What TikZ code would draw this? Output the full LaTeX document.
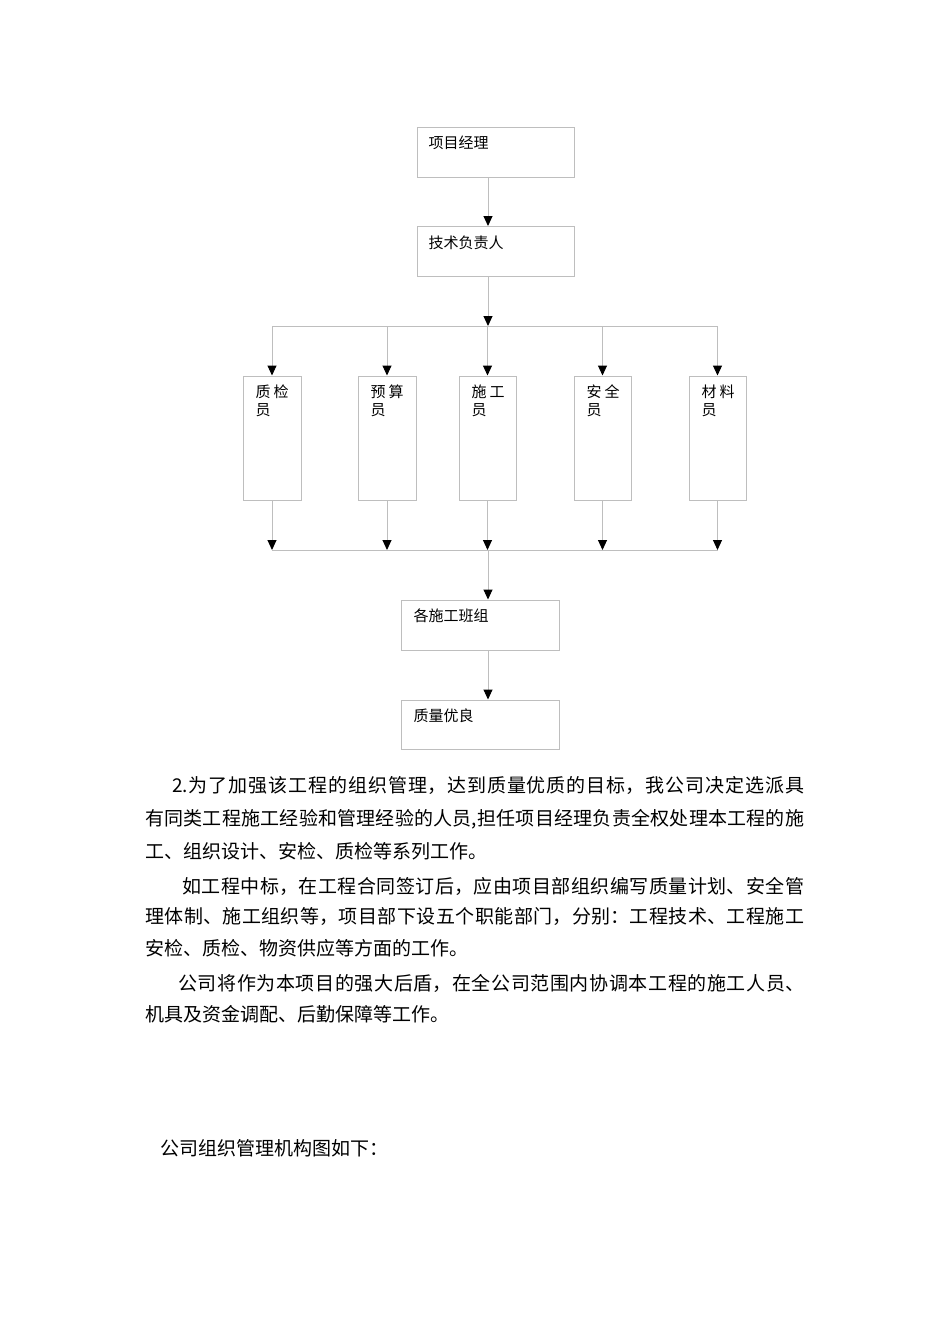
\documentclass[tikz,border=0pt]{standalone}
\usepackage{fontspec}
\setmainfont{Noto Sans CJK SC}
\usetikzlibrary{arrows.meta}
\XeTeXlinebreaklocale "zh"
\XeTeXlinebreakskip=0pt plus 2pt
\definecolor{linegray}{RGB}{190,190,190}
% one justified line of body text
\newcommand{\jline}[2]{\parbox[b]{#1pt}{\parfillskip=0pt #2}}

\begin{document}
\begin{tikzpicture}[x=1pt,y=-1pt,
		box/.style={draw=linegray,line width=1pt,inner sep=0pt},
		lbl/.style={inner sep=0pt,anchor=base west,align=left,font=\fontsize{15}{18}\selectfont},
		ln/.style={draw=linegray,line width=1pt},
		arr/.style={ln,-{Triangle[width=9pt,length=10pt,color=black]}},
		para/.style={inner sep=0pt,anchor=base west,font=\fontsize{19}{19}\selectfont}]
	\useasboundingbox (0,0) rectangle (950,1344);
	% chart
	\node [box,minimum width=157,minimum height=50] (pm) at (495.5,152) {};
	\node [lbl] (pmt) at ([shift={(12,22)}]pm.north west) {项目经理};
	\node [box,minimum width=157,minimum height=50] (tech) at (495.5,251.5) {};
	\node [lbl] (techt) at ([shift={(12,22)}]tech.north west) {技术负责人};
	\node [box,minimum width=58,minimum height=124] (zj) at (272,438) {};
	\node [lbl] (zjt) at ([shift={(13,40)}]zj.north west) {质\hspace{0.2em}检\\员};
	\node [box,minimum width=58,minimum height=124] (ys) at (387,438) {};
	\node [lbl] (yst) at ([shift={(13,40)}]ys.north west) {预\hspace{0.2em}算\\员};
	\node [box,minimum width=57,minimum height=124] (sg) at (487.5,438) {};
	\node [lbl] (sgt) at ([shift={(13,40)}]sg.north west) {施\hspace{0.2em}工\\员};
	\node [box,minimum width=57,minimum height=124] (aq) at (602.5,438) {};
	\node [lbl] (aqt) at ([shift={(13,40)}]aq.north west) {安\hspace{0.2em}全\\员};
	\node [box,minimum width=57,minimum height=124] (cl) at (717.5,438) {};
	\node [lbl] (clt) at ([shift={(13,40)}]cl.north west) {材\hspace{0.2em}料\\员};
	\node [box,minimum width=158,minimum height=50] (bz) at (480,625) {};
	\node [lbl] (bzt) at ([shift={(13,22)}]bz.north west) {各施工班组};
	\node [box,minimum width=158,minimum height=49] (zl) at (480,724.5) {};
	\node [lbl] (zlt) at ([shift={(13,22)}]zl.north west) {质量优良};
	\coordinate (top) at (488,326);
	\coordinate (bot) at (488,550);
	\draw [arr] (pm.south -| top) -- (tech.north -| top);
	\draw [arr] (tech.south -| top) -- (top);
	\draw [ln] (zj |- top) -- (cl |- top);
	\draw [arr] (zj |- top) -- (zj.north);
	\draw [arr] (ys |- top) -- (ys.north);
	\draw [arr] (sg |- top) -- (sg.north);
	\draw [arr] (aq |- top) -- (aq.north);
	\draw [arr] (cl |- top) -- (cl.north);
	\draw [arr] (zj.south) -- (zj |- bot);
	\draw [arr] (ys.south) -- (ys |- bot);
	\draw [arr] (sg.south) -- (sg |- bot);
	\draw [arr] (aq.south) -- (aq |- bot);
	\draw [arr] (cl.south) -- (cl |- bot);
	\draw [ln] (zj |- bot) -- (cl |- bot);
	\draw [arr] (bot) -- (bz.north -| bot);
	\draw [arr] (bz.south -| bot) -- (zl.north -| bot);
	% text
	\node [para] (p1) at (172,792) {\jline{632}{2.为了加强该工程的组织管理，达到质量优质的目标，我公司决定选派具}};
	\node [para] (p2) at (145,825) {\jline{659}{有同类工程施工经验和管理经验的人员,担任项目经理负责全权处理本工程的施}};
	\node [para] (p3) at (145,858) {工、组织设计、安检、质检等系列工作。};
	\node [para] (p4) at (182,893) {\jline{622}{如工程中标，在工程合同签订后，应由项目部组织编写质量计划、安全管}};
	\node [para] (p5) at (145,923) {\jline{659}{理体制、施工组织等，项目部下设五个职能部门，分别：工程技术、工程施工}};
	\node [para] (p6) at (145,955) {安检、质检、物资供应等方面的工作。};
	\node [para] (p7) at (178,990) {\jline{626}{公司将作为本项目的强大后盾，在全公司范围内协调本工程的施工人员、}};
	\node [para] (p8) at (145,1021) {机具及资金调配、后勤保障等工作。};
	\node [para] (p9) at (160,1155) {公司组织管理机构图如下：};
\end{tikzpicture}
\end{document}
